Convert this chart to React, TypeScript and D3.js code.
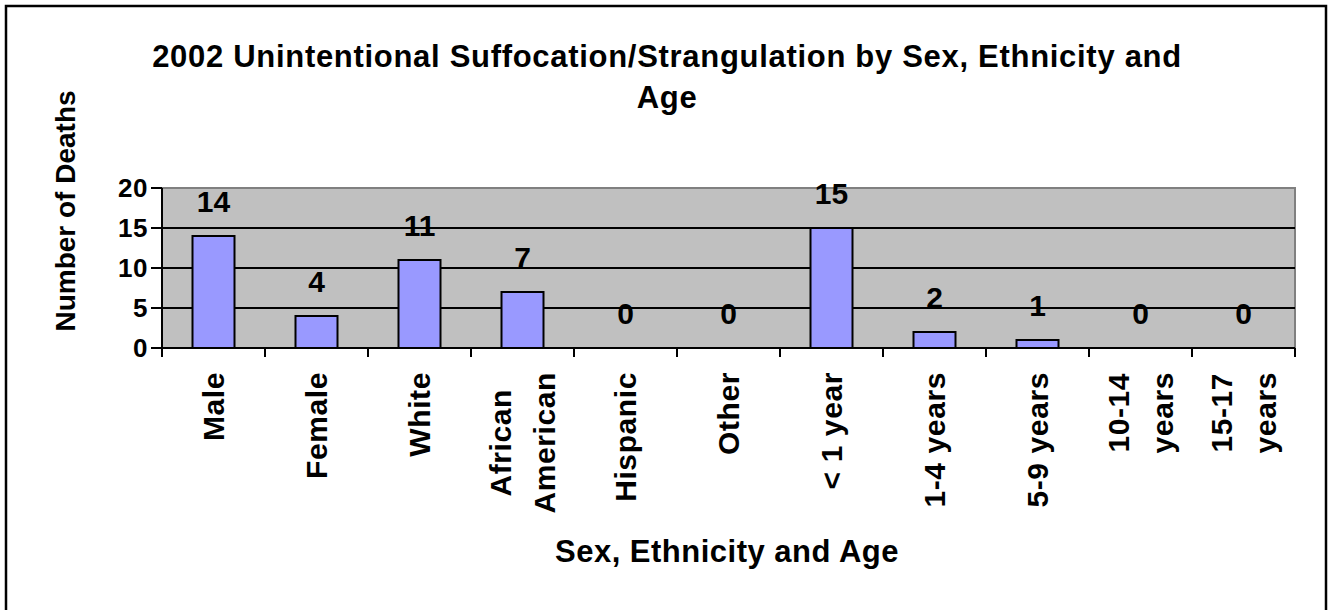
import React, { useEffect, useRef } from "react";
import * as d3 from "d3";

const categories: string[][] = [
  ["Male"], ["Female"], ["White"], ["African", "American"], ["Hispanic"], ["Other"],
  ["< 1 year"], ["1-4 years"], ["5-9 years"], ["10-14", "years"], ["15-17", "years"],
];
const deaths: number[] = [14, 4, 11, 7, 0, 0, 15, 2, 1, 0, 0];
const yTicks: number[] = [0, 5, 10, 15, 20];
const titleLines: string[] = ["2002 Unintentional Suffocation/Strangulation by Sex, Ethnicity and", "Age"];
const yTitle = "Number of Deaths";
const xTitle = "Sex, Ethnicity and Age";

const W = 1328, H = 610;
const FONT = "'Liberation Sans', Arial, sans-serif";

export default function App() {
  const ref = useRef<SVGSVGElement>(null);
  useEffect(() => {
    const svg = d3.select(ref.current);
    svg.selectAll("*").remove();
    const left = 162, right = 1295, top = 188, bottom = 348;
    const x = d3.scaleBand<number>().domain(d3.range(categories.length)).range([left, right]).padding(0);
    const y = d3.scaleLinear().domain([0, 20]).range([bottom, top]);

    svg.append("rect").attr("width", W).attr("height", H).attr("fill", "#fff");
    svg.append("rect").attr("x", 6).attr("y", 6).attr("width", 1320).attr("height", 620)
      .attr("fill", "none").attr("stroke", "#000").attr("stroke-width", 2.5);

    // plot area
    svg.append("rect").attr("x", left).attr("y", top).attr("width", right - left).attr("height", bottom - top)
      .attr("fill", "#C0C0C0").attr("stroke", "#808080").attr("stroke-width", 2);
    yTicks.filter(t => t > 0 && t < 20).forEach(t => {
      svg.append("line").attr("x1", left).attr("x2", right).attr("y1", y(t)).attr("y2", y(t))
        .attr("stroke", "#000").attr("stroke-width", 2);
    });

    // bars
    const bw = 42;
    deaths.forEach((v, i) => {
      if (v <= 0) return;
      const cx = x(i)! + x.bandwidth() / 2;
      svg.append("rect").attr("x", cx - bw / 2).attr("y", y(v)).attr("width", bw).attr("height", y(0) - y(v))
        .attr("fill", "#9999FF").attr("stroke", "#000").attr("stroke-width", 2);
    });

    // axes
    svg.append("line").attr("x1", left).attr("x2", left).attr("y1", top).attr("y2", bottom).attr("stroke", "#000").attr("stroke-width", 2);
    svg.append("line").attr("x1", left).attr("x2", right).attr("y1", bottom).attr("y2", bottom).attr("stroke", "#000").attr("stroke-width", 2);
    yTicks.forEach(t => {
      svg.append("line").attr("x1", left - 11).attr("x2", left).attr("y1", y(t)).attr("y2", y(t)).attr("stroke", "#000").attr("stroke-width", 2);
      svg.append("text").attr("x", 148).attr("y", y(t)).attr("dy", "0.36em").attr("text-anchor", "end")
        .attr("font-family", FONT).attr("font-weight", "bold").attr("font-size", 26).attr("letter-spacing", 0.5).text(String(t));
    });
    d3.range(categories.length + 1).forEach(i => {
      const xx = i < categories.length ? x(i)! : right;
      svg.append("line").attr("x1", xx).attr("x2", xx).attr("y1", bottom).attr("y2", bottom + 9).attr("stroke", "#000").attr("stroke-width", 2);
    });

    // value labels
    deaths.forEach((v, i) => {
      const cx = x(i)! + x.bandwidth() / 2;
      svg.append("text").attr("x", cx).attr("y", y(v) - 24).attr("text-anchor", "middle")
        .attr("font-family", FONT).attr("font-weight", "bold").attr("font-size", 30).text(String(v));
    });

    // category labels
    const labTop = 372;
    categories.forEach((lines, i) => {
      const cx = x(i)! + x.bandwidth() / 2;
      const g = svg.append("g");
      const texts = lines.map((ln) =>
        g.append("text").attr("font-family", FONT).attr("font-weight", "bold").attr("font-size", 30)
          .attr("letter-spacing", 0.6).attr("text-anchor", "middle").attr("dy", "0.36em").text(ln));
      const maxLen = d3.max(texts, t => (t.node() as SVGTextElement).getComputedTextLength()) || 0;
      texts.forEach((t, k) => {
        const off = (k - (lines.length - 1) / 2) * 44;
        t.attr("transform", `translate(${cx + off},${labTop + maxLen / 2}) rotate(-90)`);
      });
    });

    // titles
    titleLines.forEach((ln, k) => {
      svg.append("text").attr("x", 667).attr("y", 67 + k * 41).attr("text-anchor", "middle")
        .attr("font-family", FONT).attr("font-weight", "bold").attr("font-size", 31).attr("letter-spacing", 0.7).text(ln);
    });
    svg.append("text").attr("transform", `translate(65,211) rotate(-90)`).attr("dy", "0.36em").attr("text-anchor", "middle")
      .attr("font-family", FONT).attr("font-weight", "bold").attr("font-size", 28).text(yTitle);
    svg.append("text").attr("x", 727).attr("y", 562).attr("text-anchor", "middle")
      .attr("font-family", FONT).attr("font-weight", "bold").attr("font-size", 31).attr("letter-spacing", 0.5).text(xTitle);
  }, []);
  return <svg ref={ref} width={W} height={H} style={{ position: "absolute", left: 0, top: 0 }} />;
}
